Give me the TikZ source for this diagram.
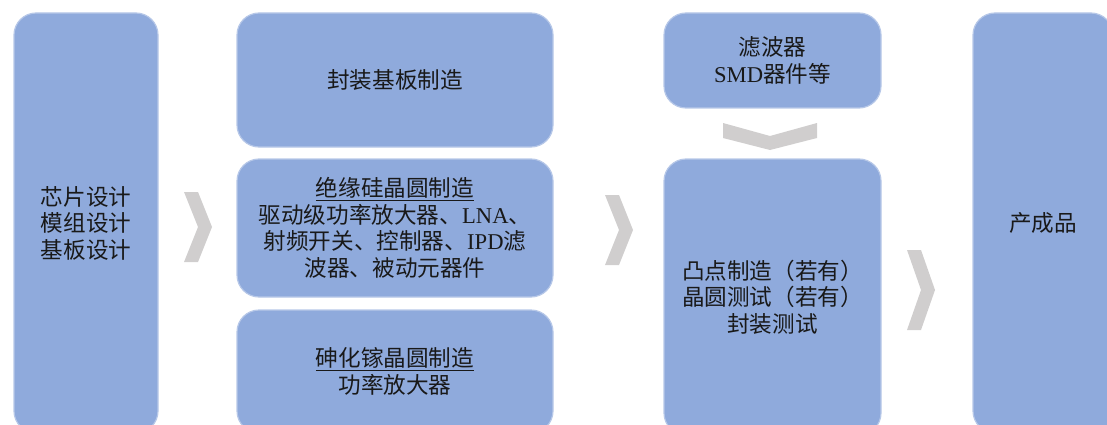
\documentclass[tikz,border=0pt]{standalone}
\usepackage{fontspec}
\setmainfont{Liberation Serif}
\newfontfamily\cjk{Noto Sans CJK SC}
\definecolor{boxblue}{HTML}{8FAADC}
\definecolor{boxedge}{HTML}{B7C8E8}
\definecolor{chev}{HTML}{D0CECE}
\begin{document}
\begin{tikzpicture}[x=1pt,y=-1pt,
  box/.style={draw=boxedge, line width=1.2pt, fill=boxblue, rounded corners=22pt,
    inner sep=0pt, align=center, font=\fontsize{22.6}{26.5}\selectfont, text=black!90},
  chevron/.style={fill=chev, draw=none}]
\useasboundingbox (0,0) rectangle (1107,425);
\clip (0,0) rectangle (1107,425);
\node[box, minimum width=144pt, minimum height=420pt] (b1) at (86,223)
  {\cjk 芯片设计\\\cjk 模组设计\\\cjk 基板设计};
\node[box, minimum width=316pt, minimum height=134pt] (b2) at (395,80)
  {\cjk 封装基板制造};
\node[box, minimum width=316pt, minimum height=138pt] (b3) at (395,228)
  {\cjk\underline{绝缘硅晶圆制造}\\
   {\cjk 驱动级功率放大器、}LNA{\cjk 、}\\
   {\cjk 射频开关、控制器、}IPD{\cjk 滤}\\
   \cjk 波器、被动元器件};
\node[box, minimum width=316pt, minimum height=123pt] (b4) at (395,371.5)
  {\cjk\underline{砷化镓晶圆制造}\\\cjk 功率放大器};
\node[box, minimum width=217pt, minimum height=95pt] (b5) at (772.5,60.5)
  {\cjk 滤波器\\SMD{\cjk 器件等}};
\node[box, minimum width=217pt, minimum height=276pt] (b6) at (772.5,297)
  {\cjk 凸点制造（若有）\\\cjk 晶圆测试（若有）\\\cjk 封装测试};
\node[box, minimum width=140pt, minimum height=420pt] (b7) at (1043,223)
  {\cjk 产成品};
% chevrons
\path[chevron] (184,192) -- (198,192) -- (212,227) -- (198,262) -- (184,262) -- (198,227) -- cycle;
\path[chevron] (605,195) -- (619,195) -- (633,230) -- (619,265) -- (605,265) -- (619,230) -- cycle;
\path[chevron] (907,250) -- (921,250) -- (935,290) -- (921,330) -- (907,330) -- (921,290) -- cycle;
\path[chevron] (723,123) -- (770,136) -- (817,123) -- (817,138) -- (770,150) -- (723,138) -- cycle;
\end{tikzpicture}
\end{document}
